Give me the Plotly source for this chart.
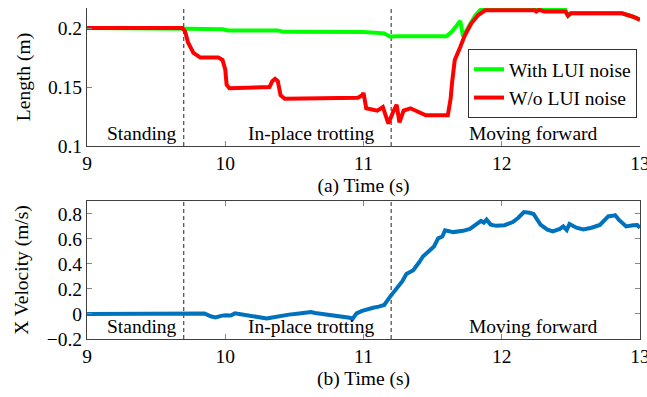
import plotly.graph_objects as go

# Foot length during the three gait phases
t_red = [9.0, 9.69, 9.71, 9.73, 9.77, 9.82, 9.95, 9.98, 10.00, 10.01, 10.03, 10.32, 10.34,
         10.36, 10.38, 10.40, 10.43, 10.96, 10.99, 11.00, 11.02, 11.10, 11.14, 11.18, 11.215,
         11.24, 11.26, 11.29, 11.34, 11.41, 11.45, 11.61, 11.63, 11.64, 11.66, 11.70, 11.73,
         11.78, 11.83, 11.88, 12.24, 12.25, 12.27, 12.31, 12.46, 12.48, 12.50, 12.87, 12.92,
         12.95, 13.0]
len_red = [0.200, 0.200, 0.197, 0.188, 0.179, 0.175, 0.175, 0.173, 0.165, 0.152, 0.149, 0.150,
           0.155, 0.157, 0.155, 0.143, 0.140, 0.141, 0.143, 0.145, 0.132, 0.130, 0.133, 0.119,
           0.129, 0.135, 0.120, 0.130, 0.132, 0.128, 0.126, 0.126, 0.140, 0.153, 0.173, 0.184,
           0.193, 0.204, 0.211, 0.215, 0.215, 0.214, 0.2155, 0.214, 0.214, 0.2105, 0.2125,
           0.2125, 0.211, 0.2096, 0.207]

t_green = [9.0, 9.70, 9.73, 9.98, 10.02, 10.38, 10.42, 11.00, 11.15, 11.19, 11.23, 11.25, 11.60,
           11.64, 11.70, 11.72, 11.76, 11.81, 11.85, 11.88, 12.24, 12.46, 12.48, 12.50, 12.87,
           12.92, 12.95, 13.0]
len_green = [0.200, 0.200, 0.1995, 0.199, 0.198, 0.198, 0.1968, 0.1966, 0.1955, 0.1928, 0.1932,
             0.193, 0.193, 0.197, 0.206, 0.193, 0.201, 0.211, 0.216, 0.2165, 0.2165, 0.2155,
             0.2105, 0.2125, 0.2125, 0.211, 0.2096, 0.207]

# Body forward velocity
t_vel = [9.0, 9.70, 9.75, 9.80, 9.85, 9.90, 9.93, 9.97, 10.00, 10.04, 10.07, 10.10, 10.15, 10.20,
         10.25, 10.30, 10.33, 10.37, 10.41, 10.46, 10.52, 10.57, 10.62, 10.65, 10.70, 10.75,
         10.80, 10.85, 10.90, 10.92, 10.95, 10.99, 11.04, 11.07, 11.11, 11.15, 11.19, 11.22,
         11.25, 11.28, 11.31, 11.36, 11.40, 11.43, 11.47, 11.51, 11.54, 11.57, 11.59, 11.65,
         11.72, 11.77, 11.82, 11.85, 11.87, 11.89, 11.92, 11.96, 12.02, 12.08, 12.12, 12.16,
         12.20, 12.23, 12.28, 12.33, 12.37, 12.42, 12.445, 12.47, 12.49, 12.54, 12.59, 12.65,
         12.71, 12.77, 12.80, 12.82, 12.85, 12.90, 12.95, 12.98, 13.0]
vel_x = [0.0, 0.0, 0.002, -0.005, 0.003, -0.02, -0.027, -0.015, -0.01, -0.012, 0.005, 0.0,
         -0.008, -0.013, -0.022, -0.035, -0.03, -0.02, -0.01, -0.005, 0.002, 0.008, 0.015, 0.008,
         0.0, -0.008, -0.012, -0.02, -0.03, -0.04, 0.005, 0.025, 0.045, 0.05, 0.059, 0.072,
         0.135, 0.175, 0.22, 0.26, 0.32, 0.35, 0.41, 0.46, 0.50, 0.54, 0.605, 0.62, 0.67, 0.655,
         0.665, 0.68, 0.72, 0.745, 0.73, 0.755, 0.715, 0.705, 0.71, 0.735, 0.77, 0.815, 0.81,
         0.80, 0.715, 0.675, 0.66, 0.68, 0.70, 0.672, 0.72, 0.69, 0.677, 0.69, 0.712, 0.78,
         0.785, 0.79, 0.75, 0.70, 0.71, 0.712, 0.69]

phase_boundaries = [9.7, 11.2]
phase_labels = ["Standing", "In-place trotting", "Moving forward"]
phase_label_t = [9.40, 10.62, 12.23]

FONT = "Liberation Serif"
FS = 19.5
AXC = "#404040"

fig = go.Figure()
fig.add_trace(go.Scatter(x=t_green, y=len_green, mode="lines", name="With LUI noise",
                         line=dict(color="#00ff00", width=4), xaxis="x", yaxis="y"))
fig.add_trace(go.Scatter(x=t_red, y=len_red, mode="lines", name="W/o LUI noise",
                         line=dict(color="#ff0000", width=4), xaxis="x", yaxis="y"))
fig.add_trace(go.Scatter(x=t_vel, y=vel_x, mode="lines", showlegend=False,
                         line=dict(color="#0072bd", width=4), xaxis="x2", yaxis="y2"))

for xb in phase_boundaries:
    for xr, yr in (("x", "y domain"), ("x2", "y2 domain")):
        fig.add_shape(type="line", xref=xr, yref=yr, x0=xb, x1=xb, y0=0, y1=1,
                      line=dict(color="#222", width=1, dash="4px,3px"), layer="below")

for lab, tl in zip(phase_labels, phase_label_t):
    for xr, yr in (("x", "y domain"), ("x2", "y2 domain")):
        fig.add_annotation(x=tl, y=0.09, xref=xr, yref=yr, text=lab, showarrow=False,
                           yanchor="middle", font=dict(family=FONT, size=FS, color="black"))

common_x = dict(range=[9, 13], tickvals=[9, 10, 11, 12, 13], ticks="inside", ticklen=5,
                tickcolor="#888", showline=True, linecolor=AXC, linewidth=1, showgrid=False,
                zeroline=False, ticklabeloverflow="allow", automargin=False,
                tickfont=dict(family=FONT, size=FS, color="black"))
common_y = dict(ticks="inside", ticklen=5, tickcolor="#888", showline=True, linecolor=AXC,
                linewidth=1, showgrid=False, zeroline=False, automargin=False,
                tickfont=dict(family=FONT, size=FS, color="black"))

fig.update_layout(
    width=647, height=397,
    margin=dict(l=87, r=7, t=8, b=58, autoexpand=False),
    paper_bgcolor="white", plot_bgcolor="white",
    font=dict(family=FONT, size=FS, color="black"),
    xaxis=dict(common_x, anchor="y",
               title=dict(text="(a) Time (s)", standoff=4, font=dict(family=FONT, size=FS))),
    yaxis=dict(common_y, domain=[0.583, 1.0], anchor="x", range=[0.1, 0.217],
               tickvals=[0.1, 0.15, 0.2], ticktext=["0.1", "0.15", "0.2"],
               title=dict(text="Length (m)", standoff=12, font=dict(family=FONT, size=FS))),
    xaxis2=dict(common_x, anchor="y2", mirror="ticks",
                title=dict(text="(b) Time (s)", standoff=4, font=dict(family=FONT, size=FS))),
    yaxis2=dict(common_y, domain=[0.0, 0.417], anchor="x2", range=[-0.2, 0.904], mirror="ticks",
                tickvals=[-0.2, 0, 0.2, 0.4, 0.6, 0.8],
                ticktext=["\u22120.2", "0", "0.2", "0.4", "0.6", "0.8"],
                title=dict(text="X Velocity (m/s)", standoff=12, font=dict(family=FONT, size=FS))),
    legend=dict(x=0.689, y=0.876, xanchor="left", yanchor="top", bgcolor="white",
                bordercolor="#333", borderwidth=1,
                font=dict(family=FONT, size=FS, color="black")),
    showlegend=True,
)

fig.write_html("out.html")
